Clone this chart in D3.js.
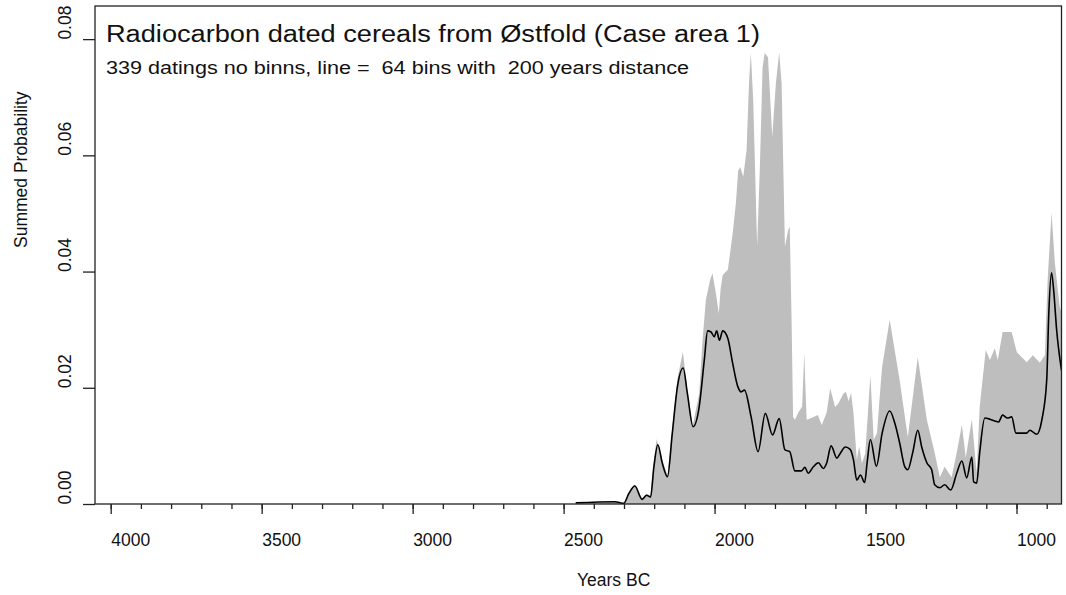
<!DOCTYPE html>
<html>
<head>
<meta charset="utf-8">
<script src="https://cdn.jsdelivr.net/npm/d3@7"></script>
<style>
  html, body { margin: 0; padding: 0; background: #fff; }
  svg { display: block; }
  text { font-family: "Liberation Sans", Arial, sans-serif; fill: #111; }
</style>
</head>
<body>
<svg id="chart" width="1066" height="595"></svg>
<script>
// ---- data ----
const titleText = "Radiocarbon dated cereals from Østfold (Case area 1)";
const subtitleText = "339 datings no binns, line =  64 bins with  200 years distance";
const xLabel = "Years BC";
const yLabel = "Summed Probability";

const xMajorTicks = [4000, 3500, 3000, 2500, 2000, 1500, 1000];
const xMinorTicks = [4000,3900,3800,3700,3600,3500,3400,3300,3200,3100,3000,2900,2800,2700,2600,2500,2400,2300,2200,2100,2000,1900,1800,1700,1600,1500,1400,1300,1200,1100,1000,900];
const yTicks = [0, 0.02, 0.04, 0.06, 0.08];

// summed probability (grey area), unbinned
const spdYears = [2460,2330,2300,2284,2264,2240,2225,2212,2201,2192,2173,2156,2140,2123,2105,2090,2073,2051,2040,2029,2015,2007,1995,1986,1980,1973,1956,1940,1929,1922,1915,1905,1894,1886,1880,1872,1859,1850,1841,1834,1823,1809,1797,1786,1778,1767,1756,1751,1745,1740,1734,1723,1710,1706,1703,1699,1695,1679,1658,1645,1629,1617,1601,1590,1573,1565,1556,1548,1540,1529,1521,1512,1501,1484,1473,1462,1453,1445,1420,1387,1360,1327,1297,1271,1254,1238,1215,1198,1181,1168,1148,1132,1122,1102,1088,1072,1062,1046,1016,999,966,946,923,906,897,884,873,857,851];
const spdValues = [0,0.0004,0.0002,0.002,0.0034,0.001,0.0017,0.0014,0.0075,0.0112,0.0075,0.005,0.013,0.0215,0.0262,0.0195,0.0133,0.019,0.028,0.0351,0.0385,0.0397,0.036,0.0328,0.037,0.0394,0.0403,0.0466,0.052,0.0573,0.058,0.0563,0.0609,0.0724,0.0776,0.0695,0.0443,0.058,0.0752,0.0776,0.0769,0.0632,0.0724,0.0777,0.0724,0.0443,0.0472,0.0477,0.0317,0.015,0.0145,0.0157,0.0168,0.022,0.026,0.02,0.0145,0.0148,0.0153,0.0136,0.0157,0.0199,0.0167,0.0173,0.019,0.0193,0.0177,0.0191,0.0157,0.0076,0.0099,0.007,0.0087,0.0222,0.011,0.0122,0.0185,0.0236,0.0317,0.0213,0.0115,0.0253,0.0145,0.0088,0.0046,0.0064,0.0046,0.0088,0.0136,0.008,0.0146,0.0053,0.0167,0.0265,0.0248,0.0268,0.0248,0.0296,0.0296,0.0261,0.0244,0.0256,0.0243,0.0256,0.0385,0.0501,0.0415,0.0339,0.033];

// binned summed probability (black line)
const binYears = [2460,2330,2301,2284,2264,2240,2225,2212,2201,2188,2173,2156,2140,2123,2104,2090,2071,2051,2034,2023,2012,2001,1993,1984,1973,1956,1940,1923,1912,1901,1879,1856,1832,1808,1786,1767,1751,1734,1712,1701,1690,1673,1656,1640,1629,1614,1595,1584,1567,1551,1540,1529,1517,1503,1495,1484,1464,1445,1420,1403,1387,1370,1360,1344,1327,1314,1297,1281,1271,1254,1238,1218,1198,1181,1165,1148,1142,1132,1122,1105,1088,1072,1060,1046,1030,1016,1002,966,956,933,916,900,893,884,877,867,851];
const binValues = [0.0002,0.0004,0.0001,0.0018,0.0031,0.0008,0.0015,0.0012,0.0064,0.0102,0.007,0.0047,0.0122,0.0202,0.0234,0.019,0.0133,0.0167,0.0248,0.0298,0.0296,0.0288,0.0298,0.0282,0.0298,0.0285,0.0242,0.0202,0.0193,0.0196,0.015,0.009,0.0156,0.0119,0.0147,0.0093,0.009,0.0057,0.0057,0.0063,0.0053,0.0064,0.0071,0.0061,0.007,0.01,0.0079,0.0087,0.0098,0.0094,0.0076,0.0041,0.005,0.0037,0.007,0.0111,0.0065,0.0122,0.016,0.0139,0.0105,0.0064,0.0059,0.0088,0.0127,0.0098,0.0071,0.0059,0.0033,0.0028,0.0033,0.0024,0.0053,0.0074,0.0045,0.0081,0.0038,0.0036,0.0088,0.0148,0.0146,0.0143,0.0141,0.0153,0.0148,0.015,0.0122,0.0122,0.0127,0.012,0.0145,0.0213,0.0329,0.0398,0.0368,0.0299,0.023];

// ---- layout ----
const plot = { left: 95, top: 6, right: 1061.5, bottom: 504 };
const svg = d3.select("#chart");

const x = d3.scaleLinear().domain([4052, 851]).range([plot.left, plot.right]);
const y = d3.scaleLinear().domain([0, 0.0857]).range([plot.bottom, plot.top]);

svg.append("defs").append("clipPath").attr("id", "clip")
  .append("rect").attr("x", plot.left).attr("y", plot.top)
  .attr("width", plot.right - plot.left).attr("height", plot.bottom - plot.top);

const spd = spdYears.map((yr, i) => ({ yr, v: spdValues[i] }));
const bin = binYears.map((yr, i) => ({ yr, v: binValues[i] }));

const g = svg.append("g").attr("clip-path", "url(#clip)");

g.append("path")
  .datum(spd)
  .attr("d", d3.area().x(d => x(d.yr)).y0(y(0)).y1(d => y(d.v)))
  .attr("fill", "#bebebe")
  .attr("stroke", "none");

g.append("path")
  .datum(bin)
  .attr("d", d3.line().x(d => x(d.yr)).y(d => y(d.v)).curve(d3.curveMonotoneX))
  .attr("fill", "none")
  .attr("stroke", "#000")
  .attr("stroke-width", 1.6);

// frame
svg.append("rect")
  .attr("x", plot.left).attr("y", plot.top)
  .attr("width", plot.right - plot.left).attr("height", plot.bottom - plot.top)
  .attr("fill", "none").attr("stroke", "#222").attr("stroke-width", 1.3);

// x axis: minor ticks
const xMinor = svg.append("g").attr("transform", `translate(0,${plot.bottom})`)
  .call(d3.axisBottom(x).tickValues(xMinorTicks).tickSize(5).tickFormat(""));
xMinor.select(".domain").remove();
xMinor.selectAll("line").attr("stroke", "#222").attr("stroke-width", 1.3);

// x axis: major ticks and labels
const xAxis = svg.append("g").attr("transform", `translate(0,${plot.bottom})`)
  .call(d3.axisBottom(x).tickValues(xMajorTicks).tickSize(10).tickPadding(0).tickFormat(d3.format("d")));
xAxis.select(".domain").remove();
xAxis.selectAll("line").attr("stroke", "#222").attr("stroke-width", 1.3);
xAxis.selectAll("text")
  .attr("text-anchor", "start")
  .attr("y", 42).attr("dy", null)
  .style("font-size", "17.5px")
  .style("font-family", "'Liberation Sans', Arial, sans-serif")
  .attr("fill", "#111");

// y axis
const yAxis = svg.append("g").attr("transform", `translate(${plot.left},0)`)
  .call(d3.axisLeft(y).tickValues(yTicks).tickSize(12).tickFormat(d3.format(".2f")));
yAxis.select(".domain").remove();
yAxis.selectAll("line").attr("stroke", "#222").attr("stroke-width", 1.3);
yAxis.selectAll("text")
  .attr("x", null).attr("dy", null).attr("y", null)
  .attr("text-anchor", "start")
  .attr("transform", `translate(${71 - plot.left},0) rotate(-90)`)
  .style("font-size", "17.5px")
  .style("font-family", "'Liberation Sans', Arial, sans-serif")
  .attr("fill", "#111");

// axis titles
svg.append("text")
  .attr("transform", "translate(27,248) rotate(-90)")
  .attr("text-anchor", "start")
  .style("font-size", "17.5px")
  .text(yLabel);

svg.append("text")
  .attr("x", 577).attr("y", 586)
  .attr("text-anchor", "start")
  .style("font-size", "17.5px")
  .text(xLabel);

// title and subtitle
svg.append("text")
  .attr("x", 106).attr("y", 42)
  .style("font-size", "23px")
  .style("white-space", "pre")
  .attr("textLength", 654)
  .attr("lengthAdjust", "spacingAndGlyphs")
  .text(titleText);

svg.append("text")
  .attr("x", 106).attr("y", 74)
  .style("font-size", "17.5px")
  .style("white-space", "pre")
  .attr("textLength", 583)
  .attr("lengthAdjust", "spacingAndGlyphs")
  .text(subtitleText);
</script>
</body>
</html>
